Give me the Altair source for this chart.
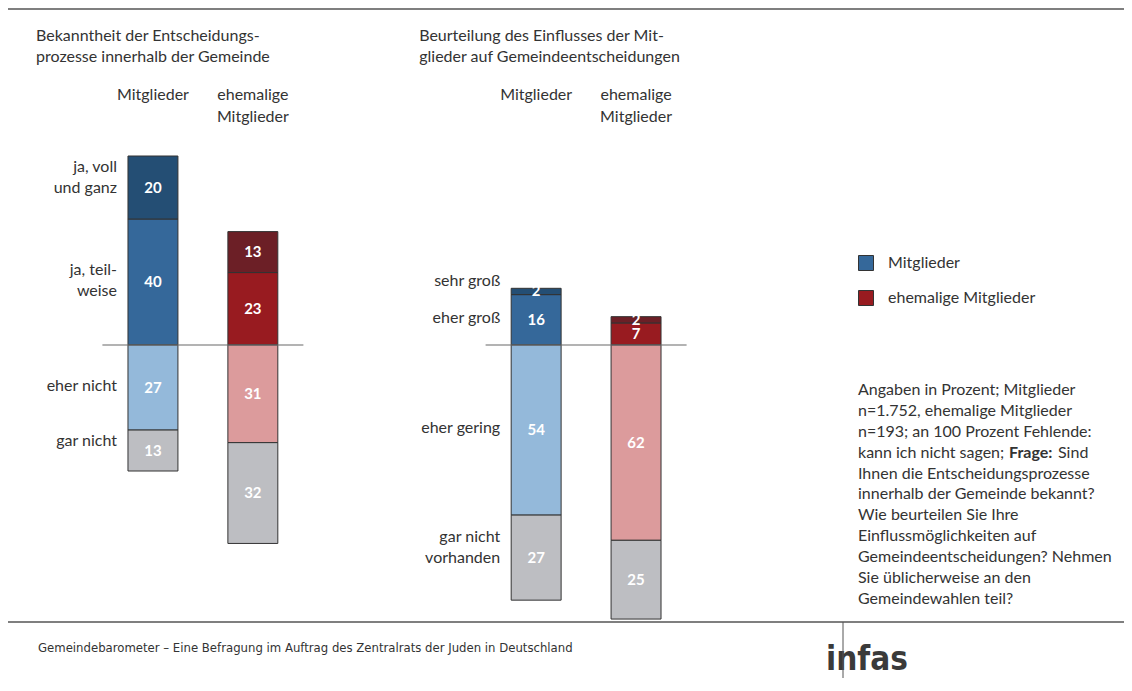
import altair as alt
import pandas as pd

# ---------------- data ----------------
panels = ["Bekanntheit", "Beurteilung"]
panel_titles = [
    "Bekanntheit der Entscheidungs-\nprozesse innerhalb der Gemeinde",
    "Beurteilung des Einflusses der Mit-\nglieder auf Gemeindeentscheidungen",
]
groups = ["Mitglieder", "ehemalige"]
group_headers = ["Mitglieder", "ehemalige\nMitglieder"]
legend_labels = ["Mitglieder", "ehemalige Mitglieder"]

# categories: positive side (outer, inner), negative side (inner, outer)
pos_cats = {
    "Bekanntheit": ["ja, voll\nund ganz", "ja, teil-\nweise"],
    "Beurteilung": ["sehr groß", "eher groß"],
}
neg_cats = {
    "Bekanntheit": ["eher nicht", "gar nicht"],
    "Beurteilung": ["eher gering", "gar nicht\nvorhanden"],
}
# values (percent)
pos_vals = {
    ("Bekanntheit", "Mitglieder"): [20, 40],
    ("Bekanntheit", "ehemalige"): [13, 23],
    ("Beurteilung", "Mitglieder"): [2, 16],
    ("Beurteilung", "ehemalige"): [2, 7],
}
neg_vals = {
    ("Bekanntheit", "Mitglieder"): [27, 13],
    ("Bekanntheit", "ehemalige"): [31, 32],
    ("Beurteilung", "Mitglieder"): [54, 27],
    ("Beurteilung", "ehemalige"): [62, 25],
}

levels = ["pos_outer", "pos_inner", "neg_inner", "neg_outer"]
blue_shades = ["#244e74", "#35689a", "#94b9da", "#bdbec2"]
red_shades = ["#6c1f26", "#981b20", "#dc9b9c", "#bdbec2"]

# ---------------- build tables ----------------
rows = []
for p in panels:
    for g in groups:
        outer, inner = pos_vals[(p, g)]
        rows.append(dict(panel=p, group=g, cat=pos_cats[p][1], level="pos_inner",
                         value=inner, y0=0, y1=inner, outer=0))
        rows.append(dict(panel=p, group=g, cat=pos_cats[p][0], level="pos_outer",
                         value=outer, y0=inner, y1=inner + outer, outer=1))
        ninner, nouter = neg_vals[(p, g)]
        rows.append(dict(panel=p, group=g, cat=neg_cats[p][0], level="neg_inner",
                         value=ninner, y0=0, y1=-ninner, outer=0))
        rows.append(dict(panel=p, group=g, cat=neg_cats[p][1], level="neg_outer",
                         value=nouter, y0=-ninner, y1=-ninner - nouter, outer=1))
df = pd.DataFrame(rows)
df["mid"] = (df["y0"] + df["y1"]) / 2
df["key"] = df["group"] + "|" + df["level"]
df["legend"] = df["group"].map(dict(zip(groups, legend_labels)))
df["nlines"] = df["cat"].str.count("\n") + 1

color_domain = [f"{g}|{l}" for g in groups for l in levels]
color_range = blue_shades + red_shades

labels_df = df[df["group"] == "Mitglieder"].copy()
headers_df = pd.DataFrame([dict(panel=p, group=g, header=h)
                           for p in panels for g, h in zip(groups, group_headers)])
titles_df = pd.DataFrame(dict(panel=panels, title=panel_titles))
panels_df = pd.DataFrame(dict(panel=panels))

FONT = "Lato, 'Open Sans', sans-serif"
NARROW = "'Liberation Sans Narrow', 'DejaVu Sans Condensed', sans-serif"
TXT = "#333333"
FS = 16

# ---------------- scales ----------------
xs = alt.Scale(domain=panels, range=[95, 678], paddingInner=0.4786, paddingOuter=0)
xos = alt.Scale(domain=groups, paddingInner=0.5, paddingOuter=0.25)
ys = alt.Scale(domain=[-100, 100], range=[652, 22])

X = alt.X("panel:N", scale=xs, axis=None)
X0 = alt.X("panel:N", scale=xs, axis=None, bandPosition=0)
XO = alt.XOffset("group:N", scale=xos)

base = alt.Chart(df)

legend_layer = base.transform_filter("datum.level == 'pos_inner'").mark_square(
    size=1, opacity=1
).encode(
    x=X, xOffset=XO,
    y=alt.Y("mid:Q", scale=ys, axis=None),
    fill=alt.Fill("legend:N", scale=alt.Scale(domain=legend_labels,
                                              range=[blue_shades[1], red_shades[1]]),
                  legend=alt.Legend(title=None, orient="none", legendX=850, legendY=247,
                                    symbolType="square", symbolSize=225,
                                    symbolStrokeColor="#333333", symbolStrokeWidth=1,
                                    labelFont=FONT, labelFontSize=FS, labelColor=TXT,
                                    labelOffset=14, rowPadding=15, padding=0)),
)

bars = base.mark_bar(stroke="#333333", strokeWidth=1).encode(
    x=X, xOffset=XO,
    y=alt.Y("y0:Q", scale=ys, axis=None),
    y2="y1:Q",
    color=alt.Color("key:N", scale=alt.Scale(domain=color_domain, range=color_range),
                    legend=None),
)

baseline = alt.Chart(panels_df).mark_tick(
    orient="horizontal", size=201, thickness=1.5, color="#6f6f6f"
).encode(x=X, y=alt.datum(0, scale=ys))

values = base.mark_text(color="white", fontWeight="bold", fontSize=15, font=FONT,
                        baseline="middle").encode(
    x=X, xOffset=XO, y=alt.Y("mid:Q", scale=ys), text="value:Q"
)

label_layers = []
for nl in (1, 2):
    for out in (0, 1):
        dy = -(nl - 1) * 10.5 + (-10 if out else -2)
        label_layers.append(
            alt.Chart(labels_df)
            .transform_filter(f"datum.nlines == {nl} && datum.outer == {out}")
            .mark_text(align="right", baseline="middle", dx=14, dy=dy, fontSize=FS,
                       font=FONT, color=TXT, lineBreak="\n", lineHeight=21)
            .encode(x=X0, y=alt.Y("mid:Q", scale=ys), text="cat:N")
        )

headers = alt.Chart(headers_df).mark_text(
    align="center", baseline="middle", fontSize=FS, font=FONT, color=TXT,
    lineBreak="\n", lineHeight=21.5
).encode(x=X, xOffset=XO, y=alt.value(87), text="header:N")

titles = alt.Chart(titles_df).mark_text(
    align="left", baseline="middle", dx=-67, fontSize=FS, font=FONT, color=TXT,
    lineBreak="\n", lineHeight=21
).encode(x=X0, y=alt.value(28), text="title:N")

# ---------------- notes ----------------
note_a = ["Angaben in Prozent; Mitglieder", "n=1.752, ehemalige Mitglieder",
          "n=193; an 100 Prozent Fehlende:"]
note_b1 = "kann ich nicht sagen;"
note_b2 = "Frage:"
note_b3 = "Sind"
note_c = ["Ihnen die Entscheidungsprozesse", "innerhalb der Gemeinde bekannt?",
          "Wie beurteilen Sie Ihre", "Einflussmöglichkeiten auf",
          "Gemeindeentscheidungen? Nehmen", "Sie üblicherweise an den",
          "Gemeindewahlen teil?"]
LH = 20.9
NX, NY = 850, 382


def txt_layer(text, x, y, weight="normal", size=FS, font=FONT, align="left",
              baseline="middle", color=TXT):
    return alt.Chart(pd.DataFrame({"t": [text]})).mark_text(
        align=align, baseline=baseline, fontSize=size, font=font, fontWeight=weight,
        color=color, lineBreak="\n", lineHeight=LH
    ).encode(x=alt.value(x), y=alt.value(y), text="t:N")


notes = [
    txt_layer("\n".join(note_a), NX, NY),
    txt_layer(note_b1, NX, NY + 3 * LH),
    txt_layer(note_b2, 1001, NY + 3 * LH, weight="bold"),
    txt_layer(note_b3, 1050, NY + 3 * LH),
    txt_layer("\n".join(note_c), NX, NY + 4 * LH),
]

footer_txt = txt_layer(
    "Gemeindebarometer – Eine Befragung im Auftrag des Zentralrats der Juden in Deutschland",
    30, 640, size=13, font=NARROW)
infas = txt_layer("infas", 818, 662, weight="bold", size=33, font=NARROW,
                  baseline="alphabetic", color="#3a3a3a")

one = pd.DataFrame({"a": [0]})
top_rule = alt.Chart(one).mark_rule(color="#7f7f7f", strokeWidth=2).encode(
    x=alt.value(0), x2=alt.value(1116), y=alt.value(1))
foot_rule = alt.Chart(one).mark_rule(color="#7f7f7f", strokeWidth=2).encode(
    x=alt.value(0), x2=alt.value(1116), y=alt.value(614))
v_rule = alt.Chart(one).mark_rule(color="#555555", strokeWidth=1).encode(
    x=alt.value(835), y=alt.value(614), y2=alt.value(670))

chart = alt.layer(
    legend_layer, bars, baseline, values, *label_layers, headers, titles,
    *notes, footer_txt, infas, top_rule, foot_rule, v_rule
).properties(
    width=1116, height=670, padding=0, autosize=alt.AutoSizeParams(type="none")
).configure_view(stroke=None)

chart.save("out.html", embed_options={"renderer": "svg", "actions": False})
